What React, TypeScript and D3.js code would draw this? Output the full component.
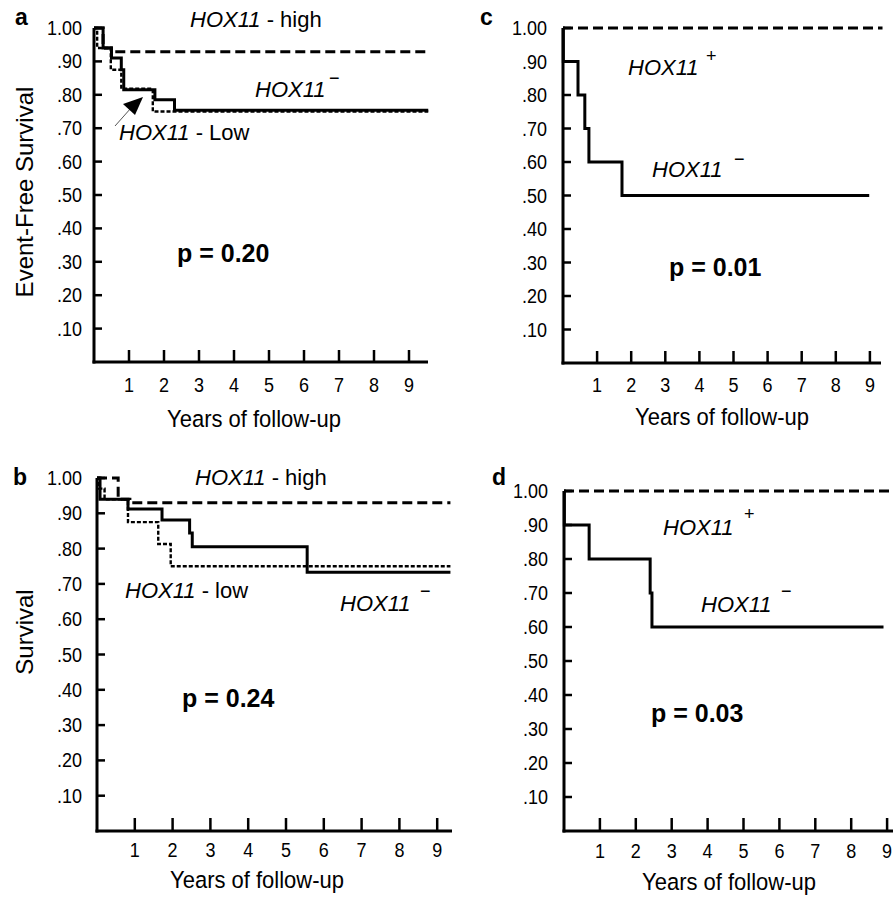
import React from "react";
import * as d3 from "d3";

// ---------- data ----------
const YEAR_TICKS = [1, 2, 3, 4, 5, 6, 7, 8, 9];
const SURV_TICKS = [0.1, 0.2, 0.3, 0.4, 0.5, 0.6, 0.7, 0.8, 0.9, 1.0];

// Panel a: event-free survival
const aNegTimes = [0, 0.26, 0.5, 0.78, 0.85, 1.74, 2.3];
const aNegSurv = [1.0, 0.94, 0.91, 0.875, 0.815, 0.785, 0.754];
const aLowTimes = [0, 0.09, 0.48, 0.78, 1.68];
const aLowSurv = [1.0, 0.94, 0.875, 0.818, 0.75];
const aHighTimes = [0, 0.26, 0.5];
const aHighSurv = [1.0, 0.94, 0.929];
const aEnd = 9.55;

// Panel b: overall survival
const bNegTimes = [0, 0.08, 0.82, 1.72, 2.45, 2.52, 5.56];
const bNegSurv = [1.0, 0.94, 0.912, 0.881, 0.844, 0.805, 0.733];
const bLowTimes = [0, 0.05, 0.2, 0.82, 1.62, 1.95];
const bLowSurv = [1.0, 0.97, 0.94, 0.875, 0.813, 0.75];
const bHighTimes = [0, 0.56, 0.87];
const bHighSurv = [1.0, 0.94, 0.93];
const bEnd = 9.35;

// Panel c: event-free survival, HOX11+ vs HOX11-
const cNegTimes = [0, 0.01, 0.44, 0.64, 0.76, 1.73];
const cNegSurv = [1.0, 0.9, 0.8, 0.7, 0.6, 0.5];
const cNegEnd = 8.98;
const cPosTimes = [0];
const cPosSurv = [1.0];
const cPosEnd = 9.37;

// Panel d: survival, HOX11+ vs HOX11-
const dNegTimes = [0, 0.01, 0.7, 2.4, 2.45];
const dNegSurv = [1.0, 0.9, 0.8, 0.7, 0.6];
const dNegEnd = 8.9;
const dPosTimes = [0];
const dPosSurv = [1.0];
const dPosEnd = 9.25;

const FONT = "'Liberation Sans', Arial, Helvetica, sans-serif";

type Curve = { times: number[]; surv: number[]; end: number; kind: "solid" | "low" | "high" };

const STYLES: Record<string, { w: number; dash?: string }> = {
  solid: { w: 3 },
  low: { w: 2.4, dash: "4,2" },
  high: { w: 3, dash: "10,5" },
};

function T(props: {
  x: number; y: number; size: number; sy?: number; anchor?: string; weight?: string; italic?: boolean; rotate?: number; sx?: number; children: any;
}) {
  const { x, y, size, sy = 1, sx = 1, anchor = "start", weight = "normal", italic = false, rotate = 0, children } = props;
  return (
    <text
      transform={`translate(${x},${y}) rotate(${rotate}) scale(${sx},${sy})`}
      fontSize={size}
      fontFamily={FONT}
      textAnchor={anchor}
      fontWeight={weight}
      fontStyle={italic ? "italic" : "normal"}
      fill="#000"
    >
      {children}
    </text>
  );
}

type PanelCfg = {
  letter: string; letterX: number; letterY: number;
  x0: number; step: number; xEndAxis: number; yBottom: number; yTop: number;
  curves: Curve[];
  tickLabelRight: number; xTickLabelDy: number; xTickLen: number;
  xTitleX: number; xTitleY: number;
  yTitle?: string; yTitleX?: number; yTitleY?: number;
  pText: string; pX: number; pY: number;
  labels: { x: number; y: number; text: string; suffix?: string; sup?: string; supX?: number; supY?: number }[];
  arrow?: boolean;
};

function Panel({ cfg }: { cfg: PanelCfg }) {
  const xs = d3.scaleLinear().domain([0, 9]).range([cfg.x0, cfg.x0 + 9 * cfg.step]);
  const ys = d3.scaleLinear().domain([0, 1]).range([cfg.yBottom, cfg.yTop]);
  const line = d3
    .line<[number, number]>()
    .x((d) => xs(d[0]))
    .y((d) => ys(d[1]))
    .curve(d3.curveStepAfter);
  const order = ["solid", "low", "high"];
  const curves = [...cfg.curves].sort((a, b) => order.indexOf(a.kind) - order.indexOf(b.kind));
  const fmt = (v: number) => (v >= 1 ? "1.00" : d3.format(".2f")(v).slice(1));
  return (
    <g>
      <T x={cfg.letterX} y={cfg.letterY} size={23} weight="bold">{cfg.letter}</T>
      {curves.map((c, i) => {
        const pts: [number, number][] = c.times.map((t, j) => [t, c.surv[j]] as [number, number]);
        pts.push([c.end, c.surv[c.surv.length - 1]]);
        const st = STYLES[c.kind];
        return (
          <path key={i} d={line(pts) || ""} fill="none" stroke="#000" strokeWidth={st.w} strokeDasharray={st.dash} />
        );
      })}
      <line x1={xs(0)} x2={xs(0)} y1={ys(1)} y2={ys(0) + 1.5} stroke="#000" strokeWidth={3} />
      <line x1={xs(0) - 1.5} x2={cfg.xEndAxis} y1={ys(0)} y2={ys(0)} stroke="#000" strokeWidth={3} />
      {SURV_TICKS.map((v) => (
        <g key={v}>
          <line x1={xs(0)} x2={xs(0) + 8} y1={ys(v)} y2={ys(v)} stroke="#000" strokeWidth={2.5} />
          <T x={cfg.tickLabelRight} y={ys(v) + 7} size={18} sy={1.1} anchor="end">{fmt(v)}</T>
        </g>
      ))}
      {YEAR_TICKS.map((t) => (
        <g key={t}>
          <line x1={xs(t)} x2={xs(t)} y1={ys(0)} y2={ys(0) - cfg.xTickLen} stroke="#000" strokeWidth={2.5} />
          <T x={xs(t)} y={ys(0) + cfg.xTickLabelDy} size={18} sy={1.15} anchor="middle">{String(t)}</T>
        </g>
      ))}
      <T x={cfg.xTitleX} y={cfg.xTitleY} size={22} sy={1.08} anchor="middle">Years of follow-up</T>
      {cfg.yTitle && (
        <T x={cfg.yTitleX!} y={cfg.yTitleY!} size={24} rotate={-90} anchor="middle">{cfg.yTitle}</T>
      )}
      <T x={cfg.pX} y={cfg.pY} size={25} weight="bold">{cfg.pText}</T>
      {cfg.labels.map((l, i) => (
        <g key={i}>
          <text x={l.x} y={l.y} fontSize={22} fontFamily={FONT} fill="#000">
            <tspan fontStyle="italic">{l.text}</tspan>
            {l.suffix ? <tspan>{l.suffix}</tspan> : null}
          </text>
          {l.sup ? (
            <text x={l.supX} y={l.supY} fontSize={18} fontFamily={FONT} fill="#000">{l.sup}</text>
          ) : null}
        </g>
      ))}
      {cfg.arrow && (
        <g>
          <line x1={115} y1={126} x2={131} y2={108} stroke="#555" strokeWidth={1} />
          <polygon points="143,97 123,104 135,115" fill="#000" />
        </g>
      )}
    </g>
  );
}

const panels: PanelCfg[] = [
  {
    letter: "a", letterX: 15, letterY: 25,
    x0: 94, step: 35, xEndAxis: 428, yBottom: 362, yTop: 28,
    curves: [
      { times: aNegTimes, surv: aNegSurv, end: aEnd, kind: "solid" },
      { times: aLowTimes, surv: aLowSurv, end: aEnd, kind: "low" },
      { times: aHighTimes, surv: aHighSurv, end: aEnd, kind: "high" },
    ],
    tickLabelRight: 82, xTickLabelDy: 30, xTickLen: 12,
    xTitleX: 254, xTitleY: 427,
    yTitle: "Event-Free Survival", yTitleX: 33, yTitleY: 192,
    pText: "p = 0.20", pX: 177, pY: 262,
    labels: [
      { x: 190, y: 27, text: "HOX11", suffix: " - high" },
      { x: 255, y: 97, text: "HOX11", sup: "\u2212", supX: 329, supY: 84 },
      { x: 119, y: 140, text: "HOX11", suffix: " - Low" },
    ],
    arrow: true,
  },
  {
    letter: "c", letterX: 480, letterY: 25,
    x0: 563, step: 34.1, xEndAxis: 881, yBottom: 363, yTop: 28,
    curves: [
      { times: cNegTimes, surv: cNegSurv, end: cNegEnd, kind: "solid" },
      { times: cPosTimes, surv: cPosSurv, end: cPosEnd, kind: "high" },
    ],
    tickLabelRight: 547, xTickLabelDy: 29, xTickLen: 12,
    xTitleX: 722, xTitleY: 425,
    pText: "p = 0.01", pX: 669, pY: 276,
    labels: [
      { x: 628, y: 75, text: "HOX11", sup: "+", supX: 706, supY: 62 },
      { x: 652, y: 177, text: "HOX11", sup: "\u2212", supX: 734, supY: 165 },
    ],
  },
  {
    letter: "b", letterX: 13, letterY: 485,
    x0: 97, step: 37.8, xEndAxis: 452, yBottom: 831, yTop: 478,
    curves: [
      { times: bNegTimes, surv: bNegSurv, end: bEnd, kind: "solid" },
      { times: bLowTimes, surv: bLowSurv, end: bEnd, kind: "low" },
      { times: bHighTimes, surv: bHighSurv, end: bEnd, kind: "high" },
    ],
    tickLabelRight: 82, xTickLabelDy: 26, xTickLen: 13,
    xTitleX: 257, xTitleY: 888,
    yTitle: "Survival", yTitleX: 33, yTitleY: 632,
    pText: "p = 0.24", pX: 182, pY: 707,
    labels: [
      { x: 195, y: 485, text: "HOX11", suffix: " - high" },
      { x: 125, y: 598, text: "HOX11", suffix: " - low" },
      { x: 340, y: 611, text: "HOX11", sup: "\u2212", supX: 420, supY: 597 },
    ],
  },
  {
    letter: "d", letterX: 492, letterY: 485,
    x0: 564, step: 35.9, xEndAxis: 893, yBottom: 831, yTop: 491,
    curves: [
      { times: dNegTimes, surv: dNegSurv, end: dNegEnd, kind: "solid" },
      { times: dPosTimes, surv: dPosSurv, end: dPosEnd, kind: "high" },
    ],
    tickLabelRight: 548, xTickLabelDy: 27, xTickLen: 13,
    xTitleX: 729, xTitleY: 890,
    pText: "p = 0.03", pX: 651, pY: 722,
    labels: [
      { x: 663, y: 535, text: "HOX11", sup: "+", supX: 744, supY: 520 },
      { x: 701, y: 612, text: "HOX11", sup: "\u2212", supX: 781, supY: 597 },
    ],
  },
];

export default function App() {
  return (
    <svg
      width={893}
      height={897}
      viewBox="0 0 893 897"
      style={{ position: "absolute", left: 0, top: 0, display: "block", background: "#fff" }}
    >
      <rect x={0} y={0} width={893} height={897} fill="#fff" />
      {panels.map((p) => (
        <Panel key={p.letter} cfg={p} />
      ))}
    </svg>
  );
}
